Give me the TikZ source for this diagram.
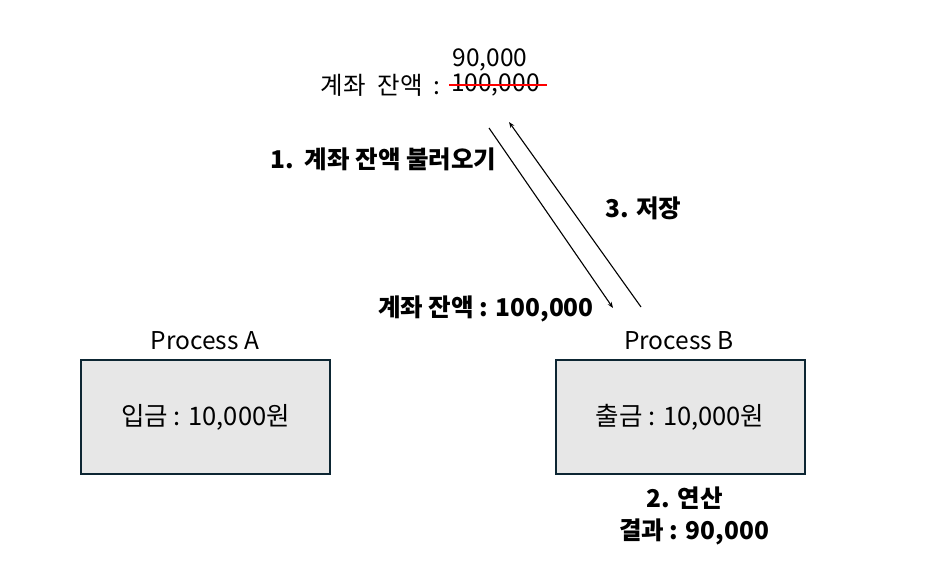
\documentclass[tikz,border=0pt]{standalone}
\usepackage{fontspec}
\setmainfont{Noto Sans CJK KR}
\usetikzlibrary{arrows.meta}
\definecolor{boxline}{HTML}{0D2633}
\definecolor{boxfill}{HTML}{E7E7E7}
\tikzset{
  procbox/.style={draw=boxline, line width=2pt, fill=boxfill, minimum width=249pt, minimum height=114pt, inner sep=0pt, font=\fontsize{25.5}{30}\selectfont},
  plain/.style={inner sep=0pt, font=\fontsize{24.5}{29}\selectfont},
  bold/.style={inner sep=0pt, font=\fontsize{24.5}{29}\selectfont\bfseries},
  flow/.style={line width=1.1pt, -{Stealth[length=6pt,width=4.5pt]}}
}
\begin{document}
\begin{tikzpicture}[x=1pt,y=1pt]
\useasboundingbox (0,0) rectangle (943,574);
% boxes
\node[procbox] (A) at (205.5,157) {입금 : 10,000원};
\node[procbox] (B) at (680,157) {출금 : 10,000원};
\node[plain] (la) at (205,233) {Process A};
\node[plain] (lb) at (679,233) {Process B};
% top balance
\node[plain, anchor=east] (bal) at (441,489) {계좌\hspace{0.5em}잔액\hspace{0.45em}:};
\node[plain, anchor=west] (old) at (451,489) {100,000};
\node[plain] (new) at (490,514) {90,000};
\coordinate (s1) at (449,489);
\coordinate (s2) at (547,489);
\draw[red, line width=1.5pt] (s1) -- (s2);
% arrows
\coordinate (a1s) at (489,446);
\coordinate (a1e) at (613,266);
\coordinate (a3s) at (641,267);
\coordinate (a3e) at (509,452);
\draw[flow] (a1s) -- (a1e);
\draw[flow] (a3s) -- (a3e);
% labels
\node[bold, anchor=west] (l1) at (270,415) {1.\ \ 계좌 잔액 불러오기};
\node[bold, anchor=west] (l3) at (605,366) {3. 저장};
\node[bold, anchor=east] (lr) at (594,265) {계좌 잔액 : 100,000};
\node[bold] (l2a) at (685,76) {2. 연산};
\node[bold] (l2b) at (694,42) {결과 : 90,000};
\end{tikzpicture}
\end{document}
